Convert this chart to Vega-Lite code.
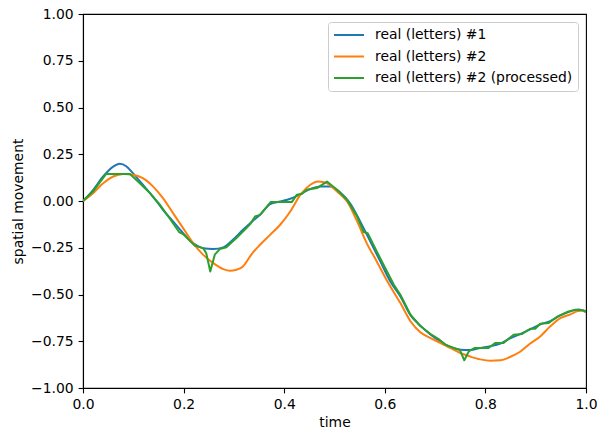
{
  "$schema": "https://vega.github.io/schema/vega-lite/v6.json",
  "width": 503,
  "height": 374,
  "autosize": {"type": "none"},
  "padding": {"left": 83, "top": 14, "right": 20, "bottom": 46},
  "datasets": {
    "curves": [
      {"time":0,"value":0,"series":"real (letters) #1"},
      {"time":0.02,"value":0.058,"series":"real (letters) #1"},
      {"time":0.04,"value":0.131,"series":"real (letters) #1"},
      {"time":0.06,"value":0.184,"series":"real (letters) #1"},
      {"time":0.073,"value":0.199,"series":"real (letters) #1"},
      {"time":0.086,"value":0.186,"series":"real (letters) #1"},
      {"time":0.099,"value":0.149,"series":"real (letters) #1"},
      {"time":0.119,"value":0.087,"series":"real (letters) #1"},
      {"time":0.139,"value":0.024,"series":"real (letters) #1"},
      {"time":0.159,"value":-0.047,"series":"real (letters) #1"},
      {"time":0.179,"value":-0.109,"series":"real (letters) #1"},
      {"time":0.199,"value":-0.172,"series":"real (letters) #1"},
      {"time":0.219,"value":-0.225,"series":"real (letters) #1"},
      {"time":0.239,"value":-0.253,"series":"real (letters) #1"},
      {"time":0.259,"value":-0.257,"series":"real (letters) #1"},
      {"time":0.279,"value":-0.248,"series":"real (letters) #1"},
      {"time":0.298,"value":-0.207,"series":"real (letters) #1"},
      {"time":0.318,"value":-0.154,"series":"real (letters) #1"},
      {"time":0.338,"value":-0.105,"series":"real (letters) #1"},
      {"time":0.352,"value":-0.074,"series":"real (letters) #1"},
      {"time":0.372,"value":-0.017,"series":"real (letters) #1"},
      {"time":0.392,"value":-0.003,"series":"real (letters) #1"},
      {"time":0.412,"value":0.012,"series":"real (letters) #1"},
      {"time":0.432,"value":0.037,"series":"real (letters) #1"},
      {"time":0.452,"value":0.065,"series":"real (letters) #1"},
      {"time":0.472,"value":0.078,"series":"real (letters) #1"},
      {"time":0.491,"value":0.078,"series":"real (letters) #1"},
      {"time":0.511,"value":0.047,"series":"real (letters) #1"},
      {"time":0.531,"value":-0.012,"series":"real (letters) #1"},
      {"time":0.551,"value":-0.109,"series":"real (letters) #1"},
      {"time":0.571,"value":-0.216,"series":"real (letters) #1"},
      {"time":0.591,"value":-0.323,"series":"real (letters) #1"},
      {"time":0.611,"value":-0.43,"series":"real (letters) #1"},
      {"time":0.631,"value":-0.51,"series":"real (letters) #1"},
      {"time":0.651,"value":-0.61,"series":"real (letters) #1"},
      {"time":0.67,"value":-0.665,"series":"real (letters) #1"},
      {"time":0.69,"value":-0.712,"series":"real (letters) #1"},
      {"time":0.71,"value":-0.75,"series":"real (letters) #1"},
      {"time":0.73,"value":-0.781,"series":"real (letters) #1"},
      {"time":0.75,"value":-0.795,"series":"real (letters) #1"},
      {"time":0.77,"value":-0.797,"series":"real (letters) #1"},
      {"time":0.79,"value":-0.786,"series":"real (letters) #1"},
      {"time":0.81,"value":-0.777,"series":"real (letters) #1"},
      {"time":0.83,"value":-0.762,"series":"real (letters) #1"},
      {"time":0.849,"value":-0.735,"series":"real (letters) #1"},
      {"time":0.869,"value":-0.712,"series":"real (letters) #1"},
      {"time":0.889,"value":-0.687,"series":"real (letters) #1"},
      {"time":0.909,"value":-0.66,"series":"real (letters) #1"},
      {"time":0.929,"value":-0.642,"series":"real (letters) #1"},
      {"time":0.949,"value":-0.612,"series":"real (letters) #1"},
      {"time":0.969,"value":-0.59,"series":"real (letters) #1"},
      {"time":0.985,"value":-0.58,"series":"real (letters) #1"},
      {"time":1.0,"value":-0.59,"series":"real (letters) #1"},

      {"time":0,"value":0,"series":"real (letters) #2"},
      {"time":0.02,"value":0.042,"series":"real (letters) #2"},
      {"time":0.04,"value":0.095,"series":"real (letters) #2"},
      {"time":0.06,"value":0.131,"series":"real (letters) #2"},
      {"time":0.08,"value":0.145,"series":"real (letters) #2"},
      {"time":0.099,"value":0.14,"series":"real (letters) #2"},
      {"time":0.119,"value":0.122,"series":"real (letters) #2"},
      {"time":0.139,"value":0.078,"series":"real (letters) #2"},
      {"time":0.159,"value":0.015,"series":"real (letters) #2"},
      {"time":0.179,"value":-0.065,"series":"real (letters) #2"},
      {"time":0.199,"value":-0.145,"series":"real (letters) #2"},
      {"time":0.219,"value":-0.225,"series":"real (letters) #2"},
      {"time":0.239,"value":-0.288,"series":"real (letters) #2"},
      {"time":0.259,"value":-0.332,"series":"real (letters) #2"},
      {"time":0.279,"value":-0.364,"series":"real (letters) #2"},
      {"time":0.292,"value":-0.373,"series":"real (letters) #2"},
      {"time":0.305,"value":-0.368,"series":"real (letters) #2"},
      {"time":0.318,"value":-0.35,"series":"real (letters) #2"},
      {"time":0.335,"value":-0.285,"series":"real (letters) #2"},
      {"time":0.352,"value":-0.234,"series":"real (letters) #2"},
      {"time":0.372,"value":-0.181,"series":"real (letters) #2"},
      {"time":0.392,"value":-0.127,"series":"real (letters) #2"},
      {"time":0.412,"value":-0.056,"series":"real (letters) #2"},
      {"time":0.432,"value":0.033,"series":"real (letters) #2"},
      {"time":0.452,"value":0.087,"series":"real (letters) #2"},
      {"time":0.468,"value":0.104,"series":"real (letters) #2"},
      {"time":0.485,"value":0.095,"series":"real (letters) #2"},
      {"time":0.505,"value":0.051,"series":"real (letters) #2"},
      {"time":0.525,"value":-0.003,"series":"real (letters) #2"},
      {"time":0.545,"value":-0.109,"series":"real (letters) #2"},
      {"time":0.564,"value":-0.225,"series":"real (letters) #2"},
      {"time":0.584,"value":-0.323,"series":"real (letters) #2"},
      {"time":0.607,"value":-0.439,"series":"real (letters) #2"},
      {"time":0.631,"value":-0.546,"series":"real (letters) #2"},
      {"time":0.651,"value":-0.643,"series":"real (letters) #2"},
      {"time":0.67,"value":-0.7,"series":"real (letters) #2"},
      {"time":0.69,"value":-0.732,"series":"real (letters) #2"},
      {"time":0.71,"value":-0.758,"series":"real (letters) #2"},
      {"time":0.73,"value":-0.786,"series":"real (letters) #2"},
      {"time":0.75,"value":-0.813,"series":"real (letters) #2"},
      {"time":0.77,"value":-0.832,"series":"real (letters) #2"},
      {"time":0.79,"value":-0.847,"series":"real (letters) #2"},
      {"time":0.81,"value":-0.854,"series":"real (letters) #2"},
      {"time":0.83,"value":-0.852,"series":"real (letters) #2"},
      {"time":0.849,"value":-0.834,"series":"real (letters) #2"},
      {"time":0.869,"value":-0.806,"series":"real (letters) #2"},
      {"time":0.889,"value":-0.762,"series":"real (letters) #2"},
      {"time":0.909,"value":-0.724,"series":"real (letters) #2"},
      {"time":0.929,"value":-0.67,"series":"real (letters) #2"},
      {"time":0.949,"value":-0.626,"series":"real (letters) #2"},
      {"time":0.969,"value":-0.606,"series":"real (letters) #2"},
      {"time":0.982,"value":-0.59,"series":"real (letters) #2"},
      {"time":0.992,"value":-0.585,"series":"real (letters) #2"},
      {"time":1.0,"value":-0.596,"series":"real (letters) #2"},

      {"time":0,"value":0,"series":"real (letters) #2 (processed)"},
      {"time":0.02,"value":0.051,"series":"real (letters) #2 (processed)"},
      {"time":0.046,"value":0.145,"series":"real (letters) #2 (processed)"},
      {"time":0.093,"value":0.145,"series":"real (letters) #2 (processed)"},
      {"time":0.113,"value":0.095,"series":"real (letters) #2 (processed)"},
      {"time":0.133,"value":0.042,"series":"real (letters) #2 (processed)"},
      {"time":0.153,"value":-0.02,"series":"real (letters) #2 (processed)"},
      {"time":0.172,"value":-0.092,"series":"real (letters) #2 (processed)"},
      {"time":0.191,"value":-0.166,"series":"real (letters) #2 (processed)"},
      {"time":0.199,"value":-0.177,"series":"real (letters) #2 (processed)"},
      {"time":0.222,"value":-0.238,"series":"real (letters) #2 (processed)"},
      {"time":0.239,"value":-0.252,"series":"real (letters) #2 (processed)"},
      {"time":0.245,"value":-0.279,"series":"real (letters) #2 (processed)"},
      {"time":0.253,"value":-0.377,"series":"real (letters) #2 (processed)"},
      {"time":0.262,"value":-0.287,"series":"real (letters) #2 (processed)"},
      {"time":0.272,"value":-0.257,"series":"real (letters) #2 (processed)"},
      {"time":0.285,"value":-0.247,"series":"real (letters) #2 (processed)"},
      {"time":0.305,"value":-0.198,"series":"real (letters) #2 (processed)"},
      {"time":0.322,"value":-0.152,"series":"real (letters) #2 (processed)"},
      {"time":0.332,"value":-0.125,"series":"real (letters) #2 (processed)"},
      {"time":0.342,"value":-0.083,"series":"real (letters) #2 (processed)"},
      {"time":0.352,"value":-0.074,"series":"real (letters) #2 (processed)"},
      {"time":0.373,"value":-0.006,"series":"real (letters) #2 (processed)"},
      {"time":0.415,"value":-0.006,"series":"real (letters) #2 (processed)"},
      {"time":0.425,"value":0.033,"series":"real (letters) #2 (processed)"},
      {"time":0.435,"value":0.037,"series":"real (letters) #2 (processed)"},
      {"time":0.445,"value":0.06,"series":"real (letters) #2 (processed)"},
      {"time":0.465,"value":0.069,"series":"real (letters) #2 (processed)"},
      {"time":0.485,"value":0.104,"series":"real (letters) #2 (processed)"},
      {"time":0.505,"value":0.06,"series":"real (letters) #2 (processed)"},
      {"time":0.525,"value":0.006,"series":"real (letters) #2 (processed)"},
      {"time":0.545,"value":-0.083,"series":"real (letters) #2 (processed)"},
      {"time":0.558,"value":-0.166,"series":"real (letters) #2 (processed)"},
      {"time":0.566,"value":-0.172,"series":"real (letters) #2 (processed)"},
      {"time":0.584,"value":-0.27,"series":"real (letters) #2 (processed)"},
      {"time":0.618,"value":-0.448,"series":"real (letters) #2 (processed)"},
      {"time":0.631,"value":-0.501,"series":"real (letters) #2 (processed)"},
      {"time":0.651,"value":-0.608,"series":"real (letters) #2 (processed)"},
      {"time":0.67,"value":-0.667,"series":"real (letters) #2 (processed)"},
      {"time":0.69,"value":-0.71,"series":"real (letters) #2 (processed)"},
      {"time":0.707,"value":-0.738,"series":"real (letters) #2 (processed)"},
      {"time":0.72,"value":-0.768,"series":"real (letters) #2 (processed)"},
      {"time":0.737,"value":-0.786,"series":"real (letters) #2 (processed)"},
      {"time":0.749,"value":-0.795,"series":"real (letters) #2 (processed)"},
      {"time":0.758,"value":-0.852,"series":"real (letters) #2 (processed)"},
      {"time":0.767,"value":-0.804,"series":"real (letters) #2 (processed)"},
      {"time":0.778,"value":-0.786,"series":"real (letters) #2 (processed)"},
      {"time":0.806,"value":-0.786,"series":"real (letters) #2 (processed)"},
      {"time":0.82,"value":-0.759,"series":"real (letters) #2 (processed)"},
      {"time":0.836,"value":-0.759,"series":"real (letters) #2 (processed)"},
      {"time":0.856,"value":-0.715,"series":"real (letters) #2 (processed)"},
      {"time":0.873,"value":-0.711,"series":"real (letters) #2 (processed)"},
      {"time":0.889,"value":-0.683,"series":"real (letters) #2 (processed)"},
      {"time":0.899,"value":-0.683,"series":"real (letters) #2 (processed)"},
      {"time":0.909,"value":-0.656,"series":"real (letters) #2 (processed)"},
      {"time":0.926,"value":-0.652,"series":"real (letters) #2 (processed)"},
      {"time":0.942,"value":-0.62,"series":"real (letters) #2 (processed)"},
      {"time":0.962,"value":-0.594,"series":"real (letters) #2 (processed)"},
      {"time":0.979,"value":-0.581,"series":"real (letters) #2 (processed)"},
      {"time":0.995,"value":-0.585,"series":"real (letters) #2 (processed)"},
      {"time":1.0,"value":-0.593,"series":"real (letters) #2 (processed)"}
    ]
  },
  "data": {"name": "curves"},
  "encoding": {
    "x": {"field": "time", "type": "quantitative", "title": "time",
      "scale": {"domain": [0, 1], "nice": false, "zero": false},
      "axis": {"values": [0, 0.2, 0.4, 0.6, 0.8, 1.0], "format": ".1f", "grid": false}},
    "y": {"field": "value", "type": "quantitative", "title": "spatial movement",
      "scale": {"domain": [-1, 1], "nice": false, "zero": false},
      "axis": {"values": [-1, -0.75, -0.5, -0.25, 0, 0.25, 0.5, 0.75, 1], "format": ".2f", "grid": false}},
    "color": {"field": "series", "type": "nominal",
      "scale": {"domain": ["real (letters) #1", "real (letters) #2", "real (letters) #2 (processed)"],
                "range": ["#1f77b4", "#ff7f0e", "#2ca02c"]},
      "legend": {"title": null, "orient": "top-right", "offset": 8}}
  },
  "layer": [
    {"transform": [{"filter": "datum.series !== 'real (letters) #2 (processed)'"}],
     "mark": {"type": "line", "interpolate": "monotone", "strokeWidth": 2, "clip": true}},
    {"transform": [{"filter": "datum.series === 'real (letters) #2 (processed)'"}],
     "mark": {"type": "line", "interpolate": "linear", "strokeWidth": 2, "clip": true, "strokeJoin": "round"}}
  ],
  "config": {
    "font": "DejaVu Sans",
    "view": {"stroke": "#000000", "strokeWidth": 1.1},
    "axis": {
      "domainColor": "#000000", "domainWidth": 1.1,
      "tickColor": "#000000", "tickWidth": 1.1, "tickSize": 4.9,
      "labelColor": "#000000", "labelFontSize": 13.9, "labelPadding": 4.9, "labelFont": "DejaVu Sans",
      "titleColor": "#000000", "titleFontSize": 13.9, "titleFontWeight": "normal", "titleFont": "DejaVu Sans",
      "labelFlush": false, "labelOverlap": false
    },
    "axisY": {"titlePadding": 5},
    "axisX": {"titlePadding": 4},
    "legend": {
      "padding": 5, "strokeColor": "#cccccc", "cornerRadius": 3, "fillColor": "#ffffff",
      "symbolType": "stroke", "symbolSize": 900, "symbolStrokeWidth": 2,
      "labelFontSize": 13.9, "labelFont": "DejaVu Sans", "labelColor": "#000000", "labelOffset": 10,
      "clipHeight": 16, "rowPadding": 5.5, "labelLimit": 400
    }
  }
}
